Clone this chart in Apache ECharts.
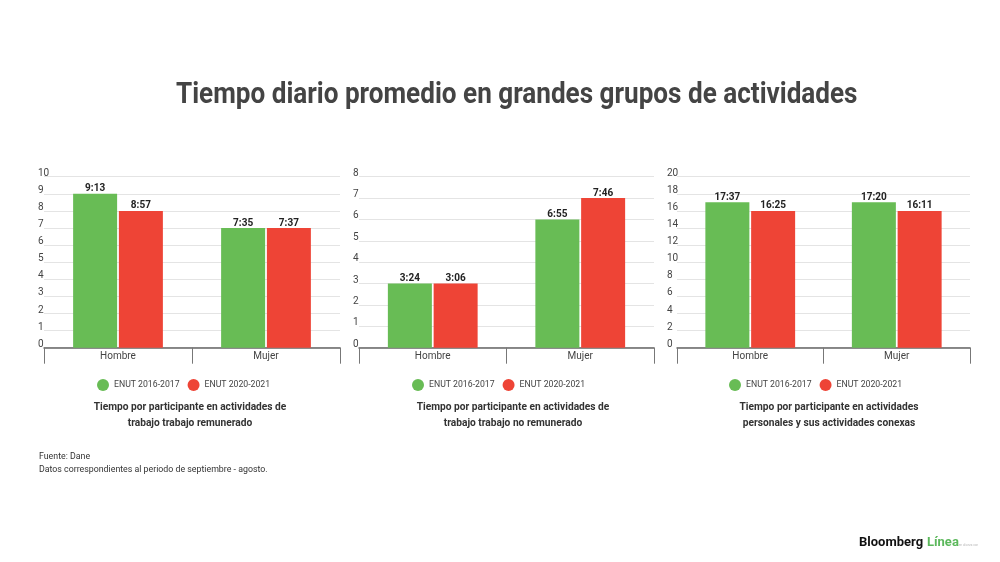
<!DOCTYPE html>
<html>
<head>
<meta charset="utf-8">
<script src="https://cdn.jsdelivr.net/npm/echarts@6/dist/echarts.min.js"></script>
<style>
  html, body { margin: 0; padding: 0; background: #fff; }
  #chart { width: 1000px; height: 562px; }
</style>
</head>
<body>
<div id="chart"></div>
<script>
// datos
const categories = ['Hombre', 'Mujer'];
const seriesNames = ['ENUT 2016-2017', 'ENUT 2020-2021'];
// horas enteras (altura de barra) y etiqueta h:mm
const remHours2016 = [9, 7];
const remHours2020 = [8, 7];
const remLabels2016 = ['9:13', '7:35'];
const remLabels2020 = ['8:57', '7:37'];
const noRemHours2016 = [3, 6];
const noRemHours2020 = [3, 7];
const noRemLabels2016 = ['3:24', '6:55'];
const noRemLabels2020 = ['3:06', '7:46'];
const persHours2016 = [17, 17];
const persHours2020 = [16, 16];
const persLabels2016 = ['17:37', '17:20'];
const persLabels2020 = ['16:25', '16:11'];
const yMax = [10, 8, 20];
const yStep = [1, 1, 2];
const subtitles = [
  'Tiempo por participante en actividades de\ntrabajo trabajo remunerado',
  'Tiempo por participante en actividades de\ntrabajo trabajo no remunerado',
  'Tiempo por participante en actividades\npersonales y sus actividades conexas'
];

const green = '#68bc55';
const red = '#ee4436';
const font = 'Roboto';

// posiciones de cada panel
const panels = [
  { left: 44, right: 340, labelMargin: -6, legendX: 97, subX: 190 },
  { left: 359, right: 654, labelMargin: -6, legendX: 412, subX: 513 },
  { left: 677, right: 970, labelMargin: -10, legendX: 729, subX: 829 }
];

const chart = echarts.init(document.getElementById('chart'));

let grid = [], xAxis = [], yAxis = [], series = [], legend = [], title = [];

const panelData = [
  [remHours2016, remHours2020, remLabels2016, remLabels2020],
  [noRemHours2016, noRemHours2020, noRemLabels2016, noRemLabels2020],
  [persHours2016, persHours2020, persLabels2016, persLabels2020]
];

panels.forEach((p, i) => {
  grid.push({ left: p.left, width: p.right - p.left, top: 176.7, height: 171 });
  xAxis.push({
    type: 'category',
    gridIndex: i,
    data: categories,
    axisLine: { lineStyle: { color: '#666', width: 1.5 } },
    axisTick: { show: true, length: 16, lineStyle: { color: '#777', width: 1 } },
    axisLabel: { color: '#444', fontSize: 10, fontFamily: font, margin: 4 }
  });
  yAxis.push({
    type: 'value',
    gridIndex: i,
    min: 0,
    max: yMax[i],
    interval: yStep[i],
    axisLine: { show: false },
    axisTick: { show: false },
    splitLine: { lineStyle: { color: '#e4e4e4', width: 1 } },
    axisLabel: {
      inside: true,
      margin: p.labelMargin,
      verticalAlign: 'bottom',
      lineHeight: 7,
      color: '#444',
      fontSize: 10,
      fontFamily: font
    }
  });
  const d = panelData[i];
  [0, 1].forEach(k => {
    series.push({
      name: seriesNames[k],
      type: 'bar',
      xAxisIndex: i,
      yAxisIndex: i,
      data: d[k],
      barWidth: 44,
      barGap: '4%',
      itemStyle: { color: k === 0 ? green : red },
      label: {
        show: true,
        position: 'top',
        distance: 0,
        color: '#222',
        fontSize: 10,
        fontWeight: 'bold',
        fontFamily: font,
        formatter: (prm) => d[k + 2][prm.dataIndex]
      }
    });
  });
  legend.push({
    data: seriesNames,
    left: p.legendX,
    top: 379,
    padding: 0,
    icon: 'circle',
    itemWidth: 12,
    itemHeight: 12,
    itemGap: 8,
    textStyle: { color: '#444', fontSize: 8.7, fontFamily: font },
    selectedMode: false
  });
  title.push({
    text: subtitles[i],
    left: p.subX,
    top: 399,
    padding: 0,
    textAlign: 'center',
    textStyle: { color: '#333', fontSize: 10.2, fontWeight: 'bold', fontFamily: font, lineHeight: 16 }
  });
});

title.push({
  text: 'Fuente: Dane\nDatos correspondientes al periodo de septiembre - agosto.',
  left: 39,
  top: 451,
  padding: 0,
  textStyle: { color: '#333', fontSize: 8.8, fontWeight: 'normal', fontFamily: font, lineHeight: 12.5 }
});

chart.setOption({
  backgroundColor: '#fff',
  animation: false,
  title: title,
  legend: legend,
  grid: grid,
  xAxis: xAxis,
  yAxis: yAxis,
  series: series,
  graphic: [
    {
      type: 'text',
      left: 176,
      top: 81,
      scaleX: 0.9,
      style: {
        text: 'Tiempo diario promedio en grandes grupos de actividades',
        fill: '#444',
        font: 'bold 29px Roboto'
      }
    },
    {
      type: 'text',
      left: 859,
      top: 536,
      style: { text: 'Bloomberg', fill: '#111', font: 'bold 13px Roboto' }
    },
    {
      type: 'text',
      left: 927,
      top: 536,
      style: { text: 'Línea', fill: '#5cb85c', font: 'bold 13px Roboto' }
    },
    {
      type: 'text',
      left: 959,
      top: 544,
      style: { text: 'en alianza con', fill: '#bbb', font: '3px Roboto' }
    }
  ]
});
</script>
</body>
</html>
